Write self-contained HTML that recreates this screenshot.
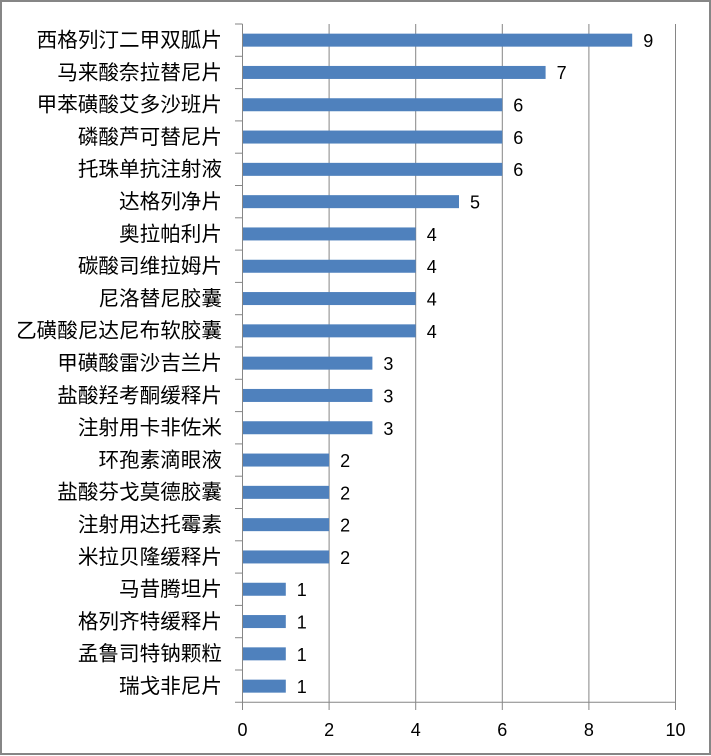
<!DOCTYPE html><html><head><meta charset="utf-8"><style>body{margin:0;background:#fff}svg{display:block}text{font-family:"Liberation Sans","Noto Sans CJK SC",sans-serif;font-size:18px;fill:#000}.c text{font-size:20.6px}</style></head><body>
<svg width="711" height="756" xmlns="http://www.w3.org/2000/svg">
<rect x="1" y="1" width="709" height="753" fill="#fff" stroke="#868686" stroke-width="2"/>
<g stroke="#868686" stroke-width="1">
<line x1="242.5" y1="24" x2="242.5" y2="710"/>
<line x1="329.1" y1="24" x2="329.1" y2="710"/>
<line x1="415.7" y1="24" x2="415.7" y2="710"/>
<line x1="502.3" y1="24" x2="502.3" y2="710"/>
<line x1="588.9" y1="24" x2="588.9" y2="710"/>
<line x1="675.5" y1="24" x2="675.5" y2="710"/>
<line x1="235" y1="702.3" x2="675.5" y2="702.3"/>
<line x1="235" y1="24" x2="242.5" y2="24"/><line x1="235" y1="56.3" x2="242.5" y2="56.3"/><line x1="235" y1="88.6" x2="242.5" y2="88.6"/><line x1="235" y1="120.9" x2="242.5" y2="120.9"/><line x1="235" y1="153.2" x2="242.5" y2="153.2"/><line x1="235" y1="185.5" x2="242.5" y2="185.5"/><line x1="235" y1="217.8" x2="242.5" y2="217.8"/><line x1="235" y1="250.1" x2="242.5" y2="250.1"/><line x1="235" y1="282.4" x2="242.5" y2="282.4"/><line x1="235" y1="314.7" x2="242.5" y2="314.7"/><line x1="235" y1="347" x2="242.5" y2="347"/><line x1="235" y1="379.3" x2="242.5" y2="379.3"/><line x1="235" y1="411.6" x2="242.5" y2="411.6"/><line x1="235" y1="443.9" x2="242.5" y2="443.9"/><line x1="235" y1="476.2" x2="242.5" y2="476.2"/><line x1="235" y1="508.5" x2="242.5" y2="508.5"/><line x1="235" y1="540.8" x2="242.5" y2="540.8"/><line x1="235" y1="573.1" x2="242.5" y2="573.1"/><line x1="235" y1="605.4" x2="242.5" y2="605.4"/><line x1="235" y1="637.7" x2="242.5" y2="637.7"/><line x1="235" y1="670" x2="242.5" y2="670"/>
</g>
<g text-anchor="middle">
<text x="242.5" y="736">0</text><text x="329.1" y="736">2</text><text x="415.7" y="736">4</text><text x="502.3" y="736">6</text><text x="588.9" y="736">8</text><text x="675.5" y="736">10</text>
</g>
<g fill="#4f81bd">
<rect x="243" y="33.65" width="389.2" height="13"/>
<rect x="243" y="65.95" width="302.6" height="13"/>
<rect x="243" y="98.25" width="259.3" height="13"/>
<rect x="243" y="130.55" width="259.3" height="13"/>
<rect x="243" y="162.85" width="259.3" height="13"/>
<rect x="243" y="195.15" width="216" height="13"/>
<rect x="243" y="227.45" width="172.7" height="13"/>
<rect x="243" y="259.75" width="172.7" height="13"/>
<rect x="243" y="292.05" width="172.7" height="13"/>
<rect x="243" y="324.35" width="172.7" height="13"/>
<rect x="243" y="356.65" width="129.4" height="13"/>
<rect x="243" y="388.95" width="129.4" height="13"/>
<rect x="243" y="421.25" width="129.4" height="13"/>
<rect x="243" y="453.55" width="86.1" height="13"/>
<rect x="243" y="485.85" width="86.1" height="13"/>
<rect x="243" y="518.15" width="86.1" height="13"/>
<rect x="243" y="550.45" width="86.1" height="13"/>
<rect x="243" y="582.75" width="42.8" height="13"/>
<rect x="243" y="615.05" width="42.8" height="13"/>
<rect x="243" y="647.35" width="42.8" height="13"/>
<rect x="243" y="679.65" width="42.8" height="13"/>
</g>
<g>
<text x="643.2" y="47">9</text><text x="556.6" y="79">7</text><text x="513.3" y="111.5">6</text><text x="513.3" y="144">6</text><text x="513.3" y="176">6</text><text x="470" y="208.5">5</text><text x="426.7" y="241">4</text><text x="426.7" y="273">4</text><text x="426.7" y="305.5">4</text><text x="426.7" y="338">4</text><text x="383.4" y="370">3</text><text x="383.4" y="402.5">3</text><text x="383.4" y="435">3</text><text x="340.1" y="467">2</text><text x="340.1" y="499.5">2</text><text x="340.1" y="531.5">2</text><text x="340.1" y="564">2</text><text x="296.8" y="596">1</text><text x="296.8" y="628.5">1</text><text x="296.8" y="661">1</text><text x="296.8" y="693">1</text>
</g>
<g text-anchor="end" class="c">
<text x="222" y="47">西格列汀二甲双胍片</text>
<text x="222" y="79.3">马来酸奈拉替尼片</text>
<text x="222" y="111.6">甲苯磺酸艾多沙班片</text>
<text x="222" y="143.9">磷酸芦可替尼片</text>
<text x="222" y="176.2">托珠单抗注射液</text>
<text x="222" y="208.5">达格列净片</text>
<text x="222" y="240.8">奥拉帕利片</text>
<text x="222" y="273.1">碳酸司维拉姆片</text>
<text x="222" y="305.4">尼洛替尼胶囊</text>
<text x="222" y="337.7">乙磺酸尼达尼布软胶囊</text>
<text x="222" y="370">甲磺酸雷沙吉兰片</text>
<text x="222" y="402.3">盐酸羟考酮缓释片</text>
<text x="222" y="434.6">注射用卡非佐米</text>
<text x="222" y="466.9">环孢素滴眼液</text>
<text x="222" y="499.2">盐酸芬戈莫德胶囊</text>
<text x="222" y="531.5">注射用达托霉素</text>
<text x="222" y="563.8">米拉贝隆缓释片</text>
<text x="222" y="596.1">马昔腾坦片</text>
<text x="222" y="628.4">格列齐特缓释片</text>
<text x="222" y="660.7">孟鲁司特钠颗粒</text>
<text x="222" y="693">瑞戈非尼片</text>
</g>
</svg></body></html>
